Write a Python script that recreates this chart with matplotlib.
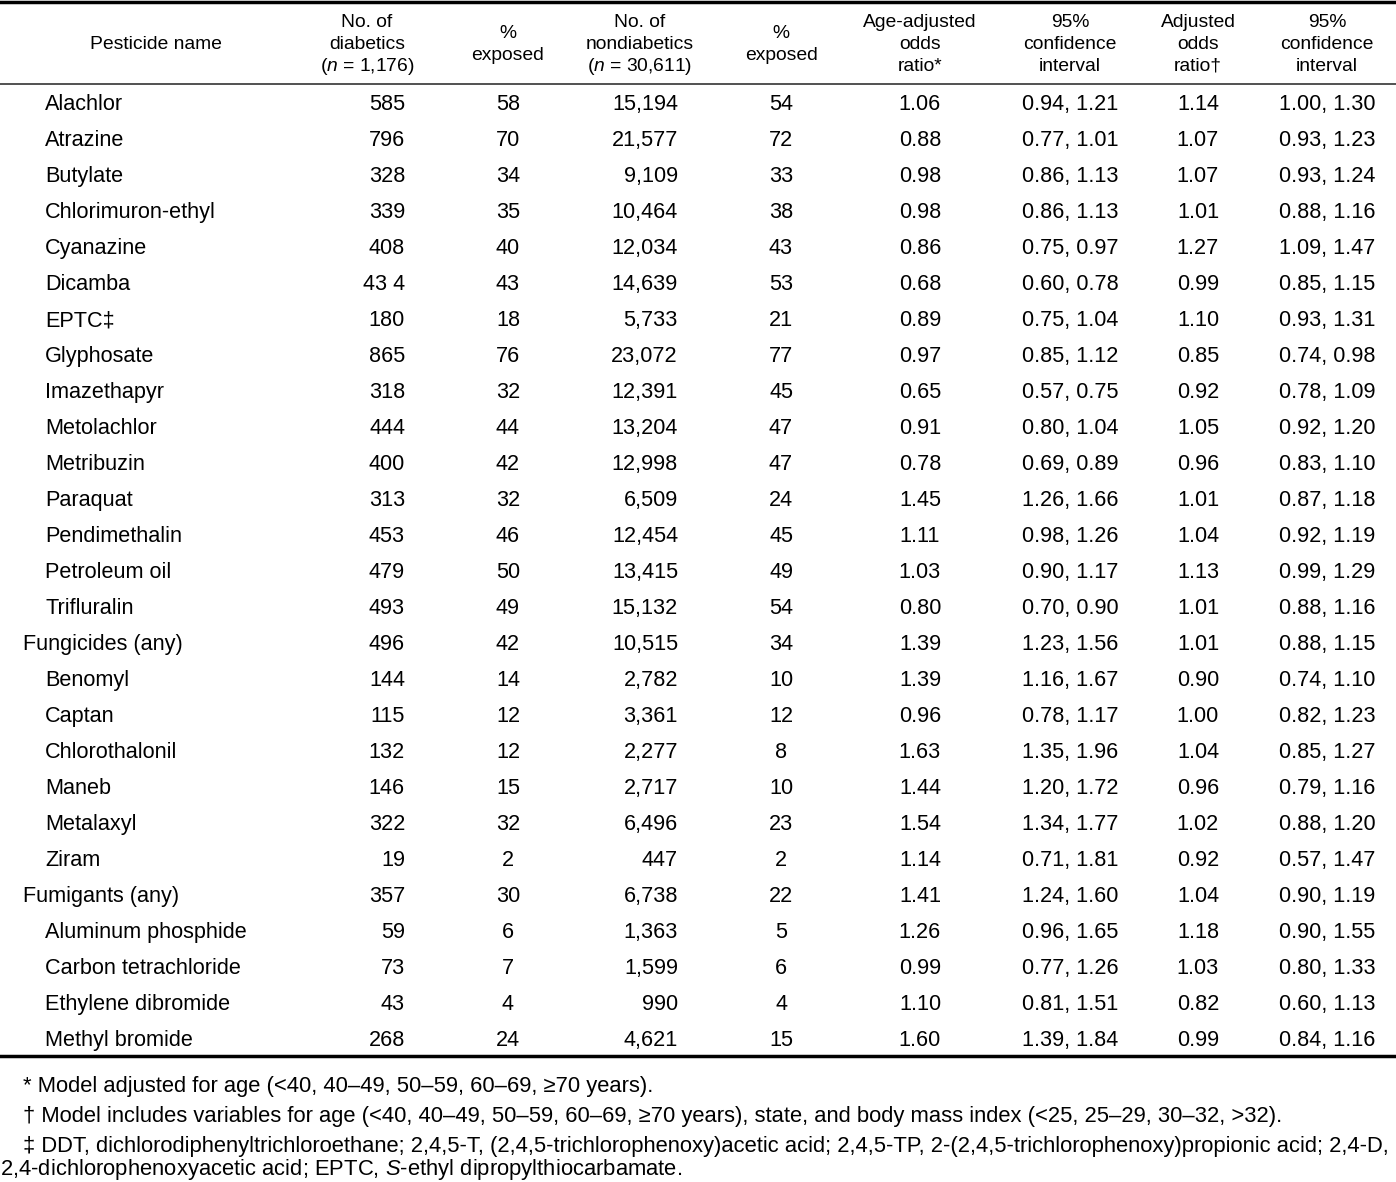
import matplotlib.pyplot as plt

plt.rcParams['font.family'] = ['Liberation Sans', 'DejaVu Sans']
plt.rcParams['mathtext.fontset'] = 'custom'
plt.rcParams['mathtext.rm'] = 'Liberation Sans'
plt.rcParams['mathtext.it'] = 'Liberation Sans:italic'

# table data
names = ["Alachlor", "Atrazine", "Butylate", "Chlorimuron-ethyl", "Cyanazine",
         "Dicamba", "EPTC\u2021", "Glyphosate", "Imazethapyr", "Metolachlor",
         "Metribuzin", "Paraquat", "Pendimethalin", "Petroleum oil", "Trifluralin",
         "Fungicides (any)", "Benomyl", "Captan", "Chlorothalonil", "Maneb",
         "Metalaxyl", "Ziram", "Fumigants (any)", "Aluminum phosphide",
         "Carbon tetrachloride", "Ethylene dibromide", "Methyl bromide"]
is_group = [n.endswith("(any)") for n in names]
n_diab = ["585", "796", "328", "339", "408", "43 4", "180", "865", "318", "444",
          "400", "313", "453", "479", "493", "496", "144", "115", "132", "146",
          "322", "19", "357", "59", "73", "43", "268"]
pct_diab = ["58", "70", "34", "35", "40", "43", "18", "76", "32", "44", "42", "32",
            "46", "50", "49", "42", "14", "12", "12", "15", "32", "2", "30", "6",
            "7", "4", "24"]
n_nondiab = ["15,194", "21,577", "9,109", "10,464", "12,034", "14,639", "5,733",
             "23,072", "12,391", "13,204", "12,998", "6,509", "12,454", "13,415",
             "15,132", "10,515", "2,782", "3,361", "2,277", "2,717", "6,496", "447",
             "6,738", "1,363", "1,599", "990", "4,621"]
pct_nondiab = ["54", "72", "33", "38", "43", "53", "21", "77", "45", "47", "47", "24",
               "45", "49", "54", "34", "10", "12", "8", "10", "23", "2", "22", "5",
               "6", "4", "15"]
or_age = ["1.06", "0.88", "0.98", "0.98", "0.86", "0.68", "0.89", "0.97", "0.65",
          "0.91", "0.78", "1.45", "1.11", "1.03", "0.80", "1.39", "1.39", "0.96",
          "1.63", "1.44", "1.54", "1.14", "1.41", "1.26", "0.99", "1.10", "1.60"]
ci_age = ["0.94, 1.21", "0.77, 1.01", "0.86, 1.13", "0.86, 1.13", "0.75, 0.97",
          "0.60, 0.78", "0.75, 1.04", "0.85, 1.12", "0.57, 0.75", "0.80, 1.04",
          "0.69, 0.89", "1.26, 1.66", "0.98, 1.26", "0.90, 1.17", "0.70, 0.90",
          "1.23, 1.56", "1.16, 1.67", "0.78, 1.17", "1.35, 1.96", "1.20, 1.72",
          "1.34, 1.77", "0.71, 1.81", "1.24, 1.60", "0.96, 1.65", "0.77, 1.26",
          "0.81, 1.51", "1.39, 1.84"]
or_adj = ["1.14", "1.07", "1.07", "1.01", "1.27", "0.99", "1.10", "0.85", "0.92",
          "1.05", "0.96", "1.01", "1.04", "1.13", "1.01", "1.01", "0.90", "1.00",
          "1.04", "0.96", "1.02", "0.92", "1.04", "1.18", "1.03", "0.82", "0.99"]
ci_adj = ["1.00, 1.30", "0.93, 1.23", "0.93, 1.24", "0.88, 1.16", "1.09, 1.47",
          "0.85, 1.15", "0.93, 1.31", "0.74, 0.98", "0.78, 1.09", "0.92, 1.20",
          "0.83, 1.10", "0.87, 1.18", "0.92, 1.19", "0.99, 1.29", "0.88, 1.16",
          "0.88, 1.15", "0.74, 1.10", "0.82, 1.23", "0.85, 1.27", "0.79, 1.16",
          "0.88, 1.20", "0.57, 1.47", "0.90, 1.19", "0.90, 1.55", "0.80, 1.33",
          "0.60, 1.13", "0.84, 1.16"]

headers = [["Pesticide name"],
           ["No. of", "diabetics", "($\\it{n}$ = 1,176)"],
           ["%", "exposed"],
           ["No. of", "nondiabetics", "($\\it{n}$ = 30,611)"],
           ["%", "exposed"],
           ["Age-adjusted", "odds", "ratio*"],
           ["95%", "confidence", "interval"],
           ["Adjusted", "odds", "ratio\u2020"],
           ["95%", "confidence", "interval"]]

footnotes = ["* Model adjusted for age (<40, 40\u201349, 50\u201359, 60\u201369, \u226570 years).",
             "\u2020 Model includes variables for age (<40, 40\u201349, 50\u201359, 60\u201369, \u226570 years), state, and body mass index (<25, 25\u201329, 30\u201332, >32).",
             "\u2021 DDT, dichlorodiphenyltrichloroethane; 2,4,5-T, (2,4,5-trichlorophenoxy)acetic acid; 2,4,5-TP, 2-(2,4,5-trichlorophenoxy)propionic acid; 2,4-D,",
             "2,4-dichlorophenoxyacetic acid; EPTC, $\\it{S}$-ethyl dipropylthiocarbamate."]

W, H = 1396, 1182
fig = plt.figure(figsize=(W / 100, H / 100), dpi=100)
ax = fig.add_axes([0, 0, 1, 1])
ax.set_xlim(0, W)
ax.set_ylim(H, 0)
ax.axis('off')

fs = 15.6
fs_head = 13.9
fs_foot = 15.85
hdr_x = [156, 367, 508, 640, 781, 920, 1070, 1198, 1327]
cols = [(n_diab, 405, 'right'), (pct_diab, 508, 'center'),
        (n_nondiab, 678, 'right'), (pct_nondiab, 781, 'center'),
        (or_age, 920, 'center'), (ci_age, 1070, 'center'),
        (or_adj, 1198, 'center'), (ci_adj, 1327, 'center')]

ax.plot([0, W], [1.5, 1.5], color='black', lw=2.5)
ax.plot([0, W], [84, 84], color='#333333', lw=1.2)
ax.plot([0, W], [1056, 1056], color='black', lw=2.5)

# header lines, baselines centred on y=49
for x, lines in zip(hdr_x, headers):
    start = 49 - 11 * (len(lines) - 1)
    for k, t in enumerate(lines):
        ax.text(x, start + 22 * k, t, ha='center', va='baseline', fontsize=fs_head)

y0, dy = 110, 36
for i, name in enumerate(names):
    y = y0 + i * dy
    ax.text(23 if is_group[i] else 45, y, name, ha='left', va='baseline', fontsize=fs)
    for vals, x, ha in cols:
        ax.text(x, y, vals[i], ha=ha, va='baseline', fontsize=fs)

foot_y = [1092, 1122, 1152, 1175]
foot_x = [23, 23, 23, 0]
for x, y, t in zip(foot_x, foot_y, footnotes):
    ax.text(x, y, t, ha='left', va='baseline', fontsize=fs_foot)

fig.savefig("out.png", dpi=100)
